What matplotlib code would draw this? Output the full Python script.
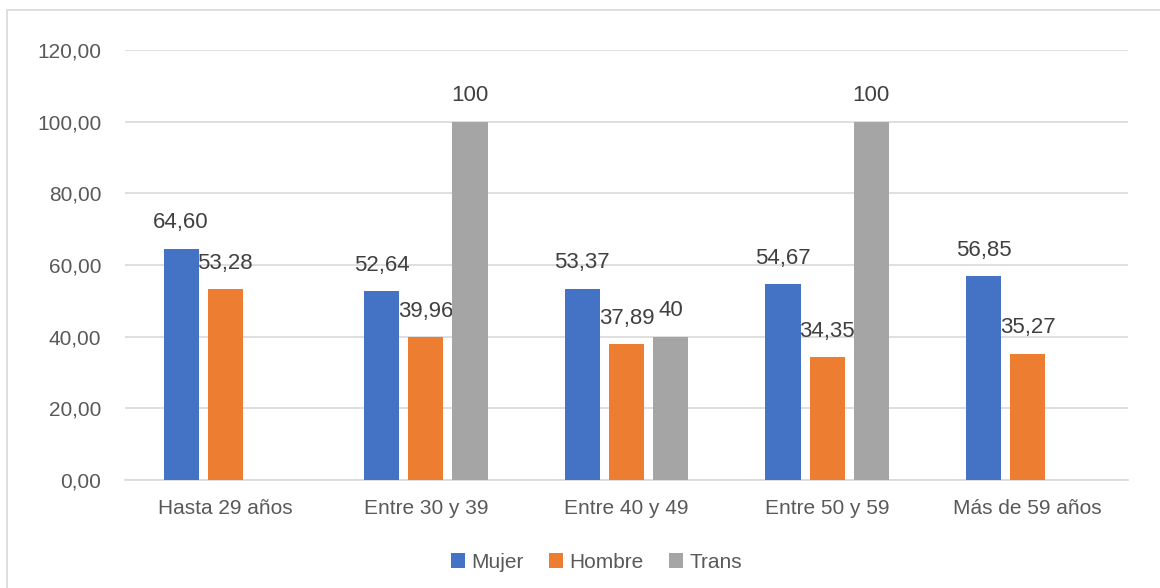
import matplotlib.pyplot as plt
import numpy as np
from matplotlib.patches import Rectangle

plt.rcParams['font.family'] = ['Liberation Sans', 'DejaVu Sans']

categories = ["Hasta 29 años", "Entre 30 y 39", "Entre 40 y 49", "Entre 50 y 59", "Más de 59 años"]
mujer = [64.60, 52.64, 53.37, 54.67, 56.85]
hombre = [53.28, 39.96, 37.89, 34.35, 35.27]
trans = [np.nan, 100, 40, 100, np.nan]
series = [("Mujer", mujer, "#4472C4", "{:.2f}"),
          ("Hombre", hombre, "#ED7D31", "{:.2f}"),
          ("Trans", trans, "#A5A5A5", "{:.0f}")]

fig = plt.figure(figsize=(11.6, 5.88), dpi=100)
ax = fig.add_axes([125 / 1160, 108 / 588, 1003 / 1160, 430 / 588])

x = np.arange(len(categories))
width = 0.175
step = 0.22
for i, (name, vals, color, fmt) in enumerate(series):
    pos = x + (i - 1) * step
    ax.bar(pos, vals, width, color=color, label=name, zorder=3)
    for p, v in zip(pos, vals):
        if np.isnan(v):
            continue
        ax.annotate(fmt.format(v).replace(".", ","), (p, v), xytext=(0, 11),
                    textcoords="offset points", ha="center", va="bottom",
                    fontsize=16, color="#404040")

ax.set_xlim(-0.5, 4.5)
ax.set_ylim(0, 120)
ax.set_yticks(np.arange(0, 121, 20))
ax.set_yticklabels([f"{v:.2f}".replace(".", ",") for v in np.arange(0, 121, 20)])
ax.set_xticks(x)
ax.set_xticklabels(categories)
ax.tick_params(length=0, labelsize=15, labelcolor="#595959")
ax.tick_params(axis="x", pad=14)
ax.tick_params(axis="y", pad=17)
ax.grid(axis="y", color="#D9D9D9", linewidth=1.2, zorder=0)
for s in ["top", "right", "left"]:
    ax.spines[s].set_visible(False)
ax.spines["bottom"].set_color("#D9D9D9")
ax.spines["bottom"].set_linewidth(1.2)

ax.legend(loc="upper center", bbox_to_anchor=(0.47, -0.125), ncol=3, frameon=False,
          fontsize=15, labelcolor="#595959", handlelength=0.7, handleheight=0.7,
          handletextpad=0.3, columnspacing=1.2)

fig.patches.append(Rectangle((7 / 1160, -0.01), 1.1, 578 / 588 + 0.01, transform=fig.transFigure,
                             fill=False, edgecolor="#D9D9D9", linewidth=1.2))

fig.savefig("out.png", dpi=100)
